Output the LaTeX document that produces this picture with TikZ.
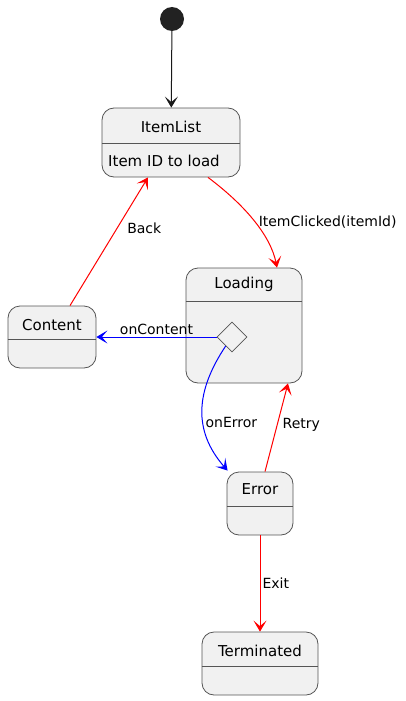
\documentclass[tikz,border=0pt]{standalone}
\usepackage{fontspec}
\setmainfont{DejaVu Sans}
\usetikzlibrary{calc,arrows.meta,shapes.geometric}
\definecolor{statefill}{HTML}{F1F1F1}
\definecolor{stateline}{HTML}{555555}
\definecolor{dotfill}{HTML}{222222}
\tikzset{
	statebox/.style={draw=stateline, fill=statefill, line width=0.8pt, rounded corners=12pt, inner sep=0pt},
	statetitle/.style={font=\fontsize{15}{18}\selectfont, inner sep=0pt},
	lbl/.style={font=\fontsize{14}{16}\selectfont, inner sep=2pt},
	trans/.style={line width=1pt, -{Stealth[length=11pt,width=13pt,inset=5.5pt]}},
	divider/.style={draw=stateline, line width=0.8pt},
}

\begin{document}
\begin{tikzpicture}[x=1pt, y=-1pt]
		%%%%% START %%%%%
		\useasboundingbox (0, 0) rectangle (406, 701);
		
		\node[circle, fill=dotfill, minimum size=24pt, inner sep=0pt] (start) at (172, 19) {};
		
		\node[statebox, minimum width=138pt, minimum height=69pt] (itemlist) at (171, 142.5) {};
		\draw[divider] ($(itemlist.north west)+(0, 36)$) -- ($(itemlist.north east)+(0, 36)$);
		\node[statetitle] at ($(itemlist.north)+(0, 19)$) {ItemList};
		\node[statetitle, anchor=west] at (108, 161) {Item ID to load};
		
		\node[statebox, minimum width=88pt, minimum height=62pt] (content) at (52, 337) {};
		\draw[divider] ($(content.north west)+(0, 34)$) -- ($(content.north east)+(0, 34)$);
		\node[statetitle] at ($(content.north)+(0, 19)$) {Content};
		
		\node[statebox, minimum width=116pt, minimum height=115pt] (loading) at (244, 325.5) {};
		\draw[divider] ($(loading.north west)+(0, 34)$) -- ($(loading.north east)+(0, 34)$);
		\node[statetitle] at ($(loading.north)+(0, 17)$) {Loading};
		\node[diamond, draw=stateline, fill=statefill, line width=0.8pt, minimum width=30pt, minimum height=30pt, inner sep=0pt] (choice) at (232, 337) {};
		
		\node[statebox, minimum width=66pt, minimum height=63pt] (error) at (260, 503.5) {};
		\draw[divider] ($(error.north west)+(0, 35)$) -- ($(error.north east)+(0, 35)$);
		\node[statetitle] at ($(error.north)+(0, 18)$) {Error};
		
		\node[statebox, minimum width=116pt, minimum height=63pt] (terminated) at (260, 663.5) {};
		\draw[divider] ($(terminated.north west)+(0, 35)$) -- ($(terminated.north east)+(0, 35)$);
		\node[statetitle] at ($(terminated.north)+(0, 19)$) {Terminated};
		
		% transitions
		\draw[trans, black!90] (start) -- (itemlist);
		\draw[trans, red] ([xshift=37pt]itemlist.south) .. controls +(40, 30) and +(-6, -30) .. ([xshift=33pt]loading.north)
			node[lbl, pos=0.5, anchor=west, black, xshift=1pt] {ItemClicked(itemId)};
		\draw[trans, red] ([xshift=18pt]content.north) -- ([xshift=-23pt]itemlist.south)
			node[lbl, pos=0.6, anchor=west, black, xshift=8pt] {Back};
		\draw[trans, blue] (choice.west) -- (content.east)
			node[lbl, midway, above, black] {onContent};
		\draw[trans, blue] (choice.-125) .. controls +(-30, 45) and +(-35, -40) .. ([xshift=1pt, yshift=1pt]error.north west)
			node[lbl, pos=0.6, anchor=west, black] {onError};
		\draw[trans, red] ([xshift=5pt]error.north) -- ([xshift=44pt]loading.south)
			node[lbl, pos=0.53, anchor=west, black, xshift=3pt] {Retry};
		\draw[trans, red] (error.south) -- (terminated.north)
			node[lbl, midway, anchor=west, black] {Exit};
		
		%%%%% END %%%%%
\end{tikzpicture}
\end{document}
